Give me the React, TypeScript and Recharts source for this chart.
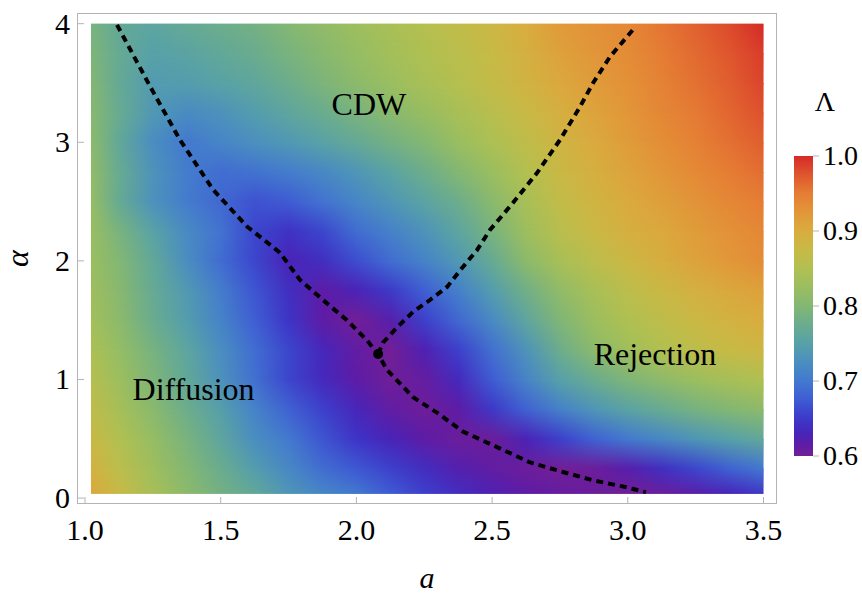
import React from 'react';
import { ComposedChart, XAxis, YAxis, Line, Scatter, ReferenceArea, ReferenceDot } from 'recharts';

// ---------- grid of Λ values ----------
const A_COLUMNS = [1.0, 1.125, 1.25, 1.375, 1.5, 1.625, 1.75, 1.875, 2.0, 2.125, 2.25, 2.375, 2.5, 2.625, 2.75, 2.875, 3.0, 3.125, 3.25, 3.375, 3.5];
const ALPHA_LEVELS = [0, 0.25, 0.5, 0.75, 1, 1.25, 1.5, 1.75, 2, 2.25, 2.5, 2.75, 3, 3.25, 3.5, 3.75, 4];

const LAMBDA_ALPHA_000 = [0.905, 0.875, 0.84, 0.81, 0.785, 0.765, 0.735, 0.715, 0.70, 0.675, 0.655, 0.638, 0.625, 0.615, 0.61, 0.605, 0.60, 0.607, 0.618, 0.632, 0.648];
const LAMBDA_ALPHA_025 = [0.89, 0.862, 0.83, 0.80, 0.775, 0.745, 0.718, 0.69, 0.672, 0.655, 0.638, 0.622, 0.612, 0.605, 0.60, 0.605, 0.62, 0.64, 0.66, 0.68, 0.70];
const LAMBDA_ALPHA_050 = [0.878, 0.85, 0.82, 0.79, 0.76, 0.725, 0.70, 0.67, 0.645, 0.63, 0.615, 0.605, 0.605, 0.628, 0.655, 0.68, 0.70, 0.718, 0.735, 0.75, 0.765];
const LAMBDA_ALPHA_075 = [0.865, 0.838, 0.808, 0.778, 0.748, 0.712, 0.68, 0.655, 0.632, 0.612, 0.603, 0.615, 0.648, 0.68, 0.71, 0.735, 0.755, 0.772, 0.788, 0.80, 0.812];
const LAMBDA_ALPHA_100 = [0.855, 0.828, 0.795, 0.765, 0.73, 0.692, 0.66, 0.635, 0.615, 0.602, 0.61, 0.635, 0.675, 0.713, 0.75, 0.775, 0.795, 0.812, 0.827, 0.84, 0.85];
const LAMBDA_ALPHA_125 = [0.845, 0.82, 0.788, 0.758, 0.725, 0.69, 0.66, 0.633, 0.612, 0.60, 0.625, 0.655, 0.692, 0.732, 0.777, 0.81, 0.833, 0.85, 0.864, 0.875, 0.883];
const LAMBDA_ALPHA_150 = [0.835, 0.81, 0.775, 0.745, 0.712, 0.678, 0.645, 0.615, 0.60, 0.62, 0.655, 0.685, 0.72, 0.76, 0.797, 0.826, 0.848, 0.865, 0.879, 0.89, 0.90];
const LAMBDA_ALPHA_175 = [0.83, 0.805, 0.77, 0.74, 0.705, 0.67, 0.64, 0.615, 0.628, 0.65, 0.678, 0.708, 0.745, 0.782, 0.815, 0.84, 0.862, 0.878, 0.892, 0.904, 0.914];
const LAMBDA_ALPHA_200 = [0.825, 0.80, 0.765, 0.725, 0.69, 0.66, 0.628, 0.64, 0.665, 0.69, 0.712, 0.738, 0.77, 0.81, 0.84, 0.862, 0.88, 0.896, 0.911, 0.924, 0.935];
const LAMBDA_ALPHA_225 = [0.825, 0.79, 0.752, 0.72, 0.695, 0.66, 0.643, 0.66, 0.69, 0.71, 0.732, 0.758, 0.79, 0.828, 0.858, 0.878, 0.894, 0.905, 0.918, 0.93, 0.94];
const LAMBDA_ALPHA_250 = [0.82, 0.77, 0.73, 0.703, 0.685, 0.668, 0.675, 0.695, 0.715, 0.735, 0.755, 0.778, 0.808, 0.84, 0.868, 0.886, 0.902, 0.915, 0.928, 0.94, 0.95];
const LAMBDA_ALPHA_275 = [0.815, 0.772, 0.732, 0.705, 0.69, 0.695, 0.705, 0.718, 0.735, 0.755, 0.778, 0.80, 0.825, 0.852, 0.878, 0.895, 0.91, 0.925, 0.938, 0.95, 0.96];
const LAMBDA_ALPHA_300 = [0.81, 0.765, 0.725, 0.70, 0.714, 0.727, 0.738, 0.752, 0.768, 0.785, 0.80, 0.825, 0.845, 0.865, 0.885, 0.902, 0.918, 0.933, 0.946, 0.958, 0.97];
const LAMBDA_ALPHA_325 = [0.805, 0.772, 0.738, 0.722, 0.73, 0.745, 0.76, 0.775, 0.79, 0.807, 0.822, 0.84, 0.858, 0.876, 0.895, 0.91, 0.925, 0.94, 0.952, 0.965, 0.978];
const LAMBDA_ALPHA_350 = [0.80, 0.768, 0.742, 0.745, 0.752, 0.762, 0.777, 0.793, 0.81, 0.825, 0.84, 0.855, 0.87, 0.887, 0.905, 0.918, 0.93, 0.945, 0.958, 0.97, 0.985];
const LAMBDA_ALPHA_375 = [0.795, 0.77, 0.75, 0.755, 0.765, 0.775, 0.79, 0.805, 0.82, 0.835, 0.848, 0.86, 0.875, 0.893, 0.912, 0.925, 0.935, 0.95, 0.962, 0.975, 0.99];
const LAMBDA_ALPHA_400 = [0.79, 0.765, 0.758, 0.77, 0.777, 0.785, 0.80, 0.815, 0.828, 0.84, 0.855, 0.868, 0.88, 0.90, 0.92, 0.93, 0.94, 0.955, 0.968, 0.982, 1.0];

const LAMBDA_ROWS = [
  LAMBDA_ALPHA_000, LAMBDA_ALPHA_025, LAMBDA_ALPHA_050, LAMBDA_ALPHA_075, LAMBDA_ALPHA_100,
  LAMBDA_ALPHA_125, LAMBDA_ALPHA_150, LAMBDA_ALPHA_175, LAMBDA_ALPHA_200, LAMBDA_ALPHA_225,
  LAMBDA_ALPHA_250, LAMBDA_ALPHA_275, LAMBDA_ALPHA_300, LAMBDA_ALPHA_325, LAMBDA_ALPHA_350,
  LAMBDA_ALPHA_375, LAMBDA_ALPHA_400,
];

// ---------- phase boundaries ----------
const LOWER_BRANCH = [
  { a: 1.118, alpha: 3.99 }, { a: 1.24, alpha: 3.47 }, { a: 1.35, alpha: 3.02 }, { a: 1.472, alpha: 2.6 },
  { a: 1.597, alpha: 2.29 }, { a: 1.718, alpha: 2.07 }, { a: 1.792, alpha: 1.84 }, { a: 1.877, alpha: 1.67 },
  { a: 1.965, alpha: 1.5 }, { a: 2.039, alpha: 1.33 }, { a: 2.08, alpha: 1.215 }, { a: 2.113, alpha: 1.08 },
  { a: 2.209, alpha: 0.85 }, { a: 2.297, alpha: 0.72 }, { a: 2.393, alpha: 0.56 }, { a: 2.518, alpha: 0.43 },
  { a: 2.64, alpha: 0.3 }, { a: 2.761, alpha: 0.22 }, { a: 2.872, alpha: 0.15 }, { a: 2.997, alpha: 0.09 },
  { a: 3.067, alpha: 0.05 },
];
const UPPER_BRANCH = [
  { a: 2.08, alpha: 1.215 }, { a: 2.098, alpha: 1.31 }, { a: 2.15, alpha: 1.44 }, { a: 2.209, alpha: 1.57 },
  { a: 2.271, alpha: 1.67 }, { a: 2.334, alpha: 1.78 }, { a: 2.382, alpha: 1.92 }, { a: 2.444, alpha: 2.09 },
  { a: 2.492, alpha: 2.26 }, { a: 2.577, alpha: 2.49 }, { a: 2.665, alpha: 2.74 }, { a: 2.75, alpha: 3.02 },
  { a: 2.824, alpha: 3.3 }, { a: 2.872, alpha: 3.5 }, { a: 2.934, alpha: 3.72 }, { a: 2.997, alpha: 3.89 },
  { a: 3.027, alpha: 3.97 },
];
const CRITICAL_POINT = { a: 2.08, alpha: 1.215 };

const REGION_LABELS = [
  { a: 2.046, alpha: 3.325, text: 'CDW' },
  { a: 1.40, alpha: 0.92, text: 'Diffusion' },
  { a: 3.10, alpha: 1.215, text: 'Rejection' },
];

const X_TICKS = [1.0, 1.5, 2.0, 2.5, 3.0, 3.5];
const Y_TICKS = [0, 1, 2, 3, 4];
const CBAR_TICKS = [0.6, 0.7, 0.8, 0.9, 1.0];
const CBAR_RANGE = [{ x: 0, v: 0.6 }, { x: 1, v: 1.0 }];

// colour scale (legend) values and colours
const CMAP_VALUES = [0.6, 0.615, 0.63, 0.645, 0.66, 0.675, 0.7, 0.725, 0.75, 0.775, 0.8, 0.825, 0.85, 0.875, 0.9, 0.925, 0.95, 0.975, 1.0];
const CMAP_COLORS = ['#721f96', '#5e1ca6', '#4824b8', '#3e34c6', '#3c46cd', '#3f5cd3', '#4379cf', '#4a8ec0', '#57a1a8', '#6aac8e', '#83b773', '#9abe60', '#b1c051', '#c7ba46', '#d9ac3e', '#e29639', '#e57d34', '#df562e', '#d52a28'];

// plot ranges
const A_DATA_START = 1.022;
const A_DATA_END = 3.5;
const ALPHA_DATA_START = 0.035;
const X_DOMAIN: [number, number] = [0.9705, 3.5497];
const Y_DOMAIN: [number, number] = [-0.05, 4.09];

const FONT = '"Liberation Serif", "Times New Roman", serif';
const GRAY = '#b4b4b4';

const hexToRgb = (h: string) => [parseInt(h.slice(1, 3), 16), parseInt(h.slice(3, 5), 16), parseInt(h.slice(5, 7), 16)];
const CMAP_RGB = CMAP_COLORS.map(hexToRgb);

function colorOf(v: number): string {
  const n = CMAP_VALUES.length;
  if (v <= CMAP_VALUES[0]) return CMAP_COLORS[0];
  if (v >= CMAP_VALUES[n - 1]) return CMAP_COLORS[n - 1];
  let i = 0;
  while (i < n - 2 && v > CMAP_VALUES[i + 1]) i++;
  const t = (v - CMAP_VALUES[i]) / (CMAP_VALUES[i + 1] - CMAP_VALUES[i]);
  const c0 = CMAP_RGB[i];
  const c1 = CMAP_RGB[i + 1];
  const c = c0.map((x, k) => Math.round(x + (c1[k] - x) * t));
  return `rgb(${c[0]},${c[1]},${c[2]})`;
}

const colOffset = (a: number) => Math.min(1, Math.max(0, (a - A_DATA_START) / (A_DATA_END - A_DATA_START)));

function Defs() {
  return (
    <svg width={0} height={0} style={{ position: 'absolute', left: 0, top: 0 }}>
      <defs>
        {LAMBDA_ROWS.map((row, j) => (
          <linearGradient key={j} id={`lam-row-${j}`} x1="0" y1="0" x2="1" y2="0">
            {row.map((v, i) => (
              <stop key={i} offset={colOffset(A_COLUMNS[i])} stopColor={colorOf(v)} />
            ))}
          </linearGradient>
        ))}
        <linearGradient id="fade-up" x1="0" y1="1" x2="0" y2="0">
          <stop offset="0" stopColor="#fff" stopOpacity={0} />
          <stop offset="1" stopColor="#fff" stopOpacity={1} />
        </linearGradient>
        <mask id="fade-mask" maskContentUnits="objectBoundingBox" style={{ maskType: 'alpha' } as any}>
          <rect x="0" y="0" width="1" height="1" fill="url(#fade-up)" />
        </mask>
        <linearGradient id="cbar-grad" x1="0" y1="1" x2="0" y2="0">
          {CMAP_VALUES.map((v, i) => (
            <stop key={i} offset={(v - 0.6) / 0.4} stopColor={CMAP_COLORS[i]} />
          ))}
        </linearGradient>
      </defs>
    </svg>
  );
}

const XTick = (props: any) => {
  const { x, y, payload } = props;
  return (
    <g>
      <line x1={x} y1={y} x2={x} y2={y - 7} stroke={GRAY} strokeWidth={1} />
      <text x={x} y={y + 36} textAnchor="middle" fontSize={30} fontFamily={FONT} fill="#000">
        {Number(payload.value).toFixed(1)}
      </text>
    </g>
  );
};

const YTick = (props: any) => {
  const { x, y, payload } = props;
  return (
    <g>
      <line x1={x} y1={y} x2={x + 7} y2={y} stroke={GRAY} strokeWidth={1} />
      <text x={x - 7} y={y + 10} textAnchor="end" fontSize={30} fontFamily={FONT} fill="#000">
        {String(payload.value)}
      </text>
    </g>
  );
};

const CbarTick = (props: any) => {
  const { x, y, payload } = props;
  return (
    <g>
      <line x1={x - 10} y1={y} x2={x - 4} y2={y} stroke={GRAY} strokeWidth={1} />
      <text x={x} y={y + 9} textAnchor="start" fontSize={28} fontFamily={FONT} fill="#000">
        {Number(payload.value).toFixed(1)}
      </text>
    </g>
  );
};

const XLabel = (props: any) => {
  const vb = props.viewBox || { x: 77, y: 504, width: 700, height: 91 };
  return (
    <text x={vb.x + vb.width / 2} y={vb.y + 84} textAnchor="middle" fontSize={30} fontStyle="italic" fontFamily={FONT} fill="#000">
      a
    </text>
  );
};

const YLabel = (props: any) => {
  const vb = props.viewBox || { x: 0, y: 13, width: 77, height: 491 };
  const cx = vb.x + 20;
  const cy = vb.y + vb.height / 2;
  return (
    <text x={cx} y={cy + 8} transform={`rotate(-90 ${cx} ${cy})`} textAnchor="middle" fontSize={32} fontStyle="italic" fontFamily={FONT} fill="#000">
      α
    </text>
  );
};

const LambdaLabel = (props: any) => {
  const vb = props.viewBox || { x: 813, y: 156, width: 49, height: 300 };
  return (
    <text x={vb.x + 12} y={vb.y - 45} textAnchor="middle" fontSize={28} fontFamily={FONT} fill="#000">
      Λ
    </text>
  );
};

const RegionLabel = (props: any) => {
  const { cx, cy, payload } = props;
  return (
    <text x={cx} y={cy + 11} textAnchor="middle" fontSize={32} fontFamily={FONT} fill="#000">
      {payload.text}
    </text>
  );
};

export default function App() {
  const bands = ALPHA_LEVELS.slice(0, -1).map((lo, j) => ({ lo: Math.max(lo, ALPHA_DATA_START), hi: ALPHA_LEVELS[j + 1], j }));
  return (
    <div style={{ position: 'relative', width: 862, height: 595, background: '#fff' }}>
      <style>{'html,body{margin:0;padding:0;overflow:hidden;background:#fff}'}</style>
      <Defs />
      <ComposedChart width={862} height={595} margin={{ top: 13, right: 85, bottom: 0, left: 0 }}>
        <XAxis
          dataKey="a"
          type="number"
          domain={X_DOMAIN}
          ticks={X_TICKS}
          allowDataOverflow
          interval={0}
          height={91}
          axisLine={false}
          tickLine={false}
          tickSize={0}
          tickMargin={0}
          tick={XTick}
          label={{ content: XLabel }}
        />
        <YAxis
          type="number"
          domain={Y_DOMAIN}
          ticks={Y_TICKS}
          allowDataOverflow
          interval={0}
          width={77}
          axisLine={false}
          tickLine={false}
          tickSize={0}
          tickMargin={0}
          tick={YTick}
          label={{ content: YLabel }}
        />
        {bands.map((b) => (
          <ReferenceArea
            key={`band-${b.j}`}
            x1={A_DATA_START}
            x2={A_DATA_END}
            y1={b.lo}
            y2={b.hi}
            ifOverflow="visible"
            shape={(p: any) => (
              <g>
                <rect x={p.x} y={p.y} width={p.width} height={p.height + (b.j > 0 ? 1 : 0)} fill={`url(#lam-row-${b.j})`} />
                <rect x={p.x} y={p.y} width={p.width} height={p.height} fill={`url(#lam-row-${b.j + 1})`} mask="url(#fade-mask)" />
              </g>
            )}
          />
        ))}
        <ReferenceArea
          x1={X_DOMAIN[0]}
          x2={X_DOMAIN[1]}
          y1={Y_DOMAIN[0]}
          y2={Y_DOMAIN[1]}
          ifOverflow="visible"
          shape={(p: any) => (
            <rect x={p.x + 0.5} y={p.y + 0.5} width={p.width - 1} height={p.height - 1} fill="none" stroke={GRAY} strokeWidth={1} />
          )}
        />
        <Line
          data={LOWER_BRANCH}
          dataKey="alpha"
          type="linear"
          stroke="#000"
          strokeWidth={4}
          strokeDasharray="7 5"
          dot={false}
          activeDot={false}
          isAnimationActive={false}
        />
        <Line
          data={UPPER_BRANCH}
          dataKey="alpha"
          type="linear"
          stroke="#000"
          strokeWidth={4}
          strokeDasharray="7 5"
          dot={false}
          activeDot={false}
          isAnimationActive={false}
        />
        <ReferenceDot x={CRITICAL_POINT.a} y={CRITICAL_POINT.alpha} r={5} fill="#000" stroke="none" ifOverflow="visible" />
        <Scatter data={REGION_LABELS} dataKey="alpha" shape={RegionLabel} isAnimationActive={false} />
      </ComposedChart>
      <div style={{ position: 'absolute', left: 0, top: 0, pointerEvents: 'none' }}>
        <ComposedChart width={862} height={595} data={CBAR_RANGE} margin={{ top: 156, right: 0, bottom: 139, left: 794 }}>
          <XAxis type="number" dataKey="x" domain={[0, 1]} hide height={0} />
          <YAxis
            type="number"
            orientation="right"
            dataKey="v"
            domain={[0.6, 1.0]}
            ticks={CBAR_TICKS}
            interval={0}
            width={49}
            axisLine={false}
            tickLine={false}
            tickSize={6}
            tickMargin={4}
            tick={CbarTick}
            label={{ content: LambdaLabel }}
          />
          <Line dataKey="v" stroke="none" dot={false} activeDot={false} isAnimationActive={false} />
          <ReferenceArea
            x1={0}
            x2={1}
            y1={0.6}
            y2={1.0}
            ifOverflow="visible"
            shape={(p: any) => <rect x={p.x} y={p.y} width={p.width} height={p.height} fill="url(#cbar-grad)" />}
          />
        </ComposedChart>
      </div>
    </div>
  );
}
